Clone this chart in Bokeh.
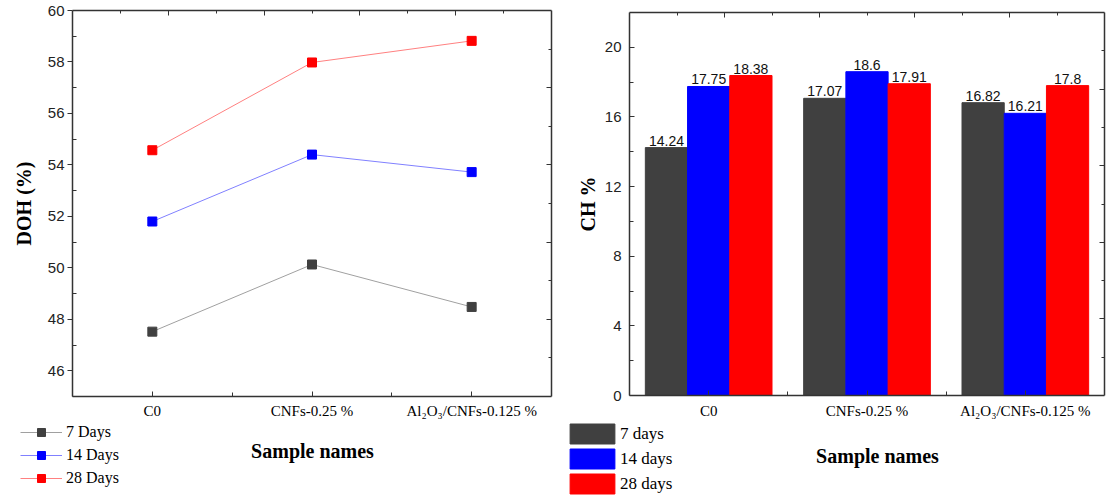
from bokeh.plotting import figure
from bokeh.models import Range1d, LinearAxis, FixedTicker, Legend, LegendItem, ColumnDataSource, Label
from bokeh.layouts import row, column
from bokeh.embed import file_html
from bokeh.resources import INLINE
from bokeh.core.properties import value

# ---------------- data ----------------
categories = ["C0", "CNFs-0.25 %", "Al\u2082O\u2083/CNFs-0.125 %"]

doh_labels = ["7 Days", "14 Days", "28 Days"]
doh_7 = [47.52, 50.13, 48.48]
doh_14 = [51.80, 54.40, 53.72]
doh_28 = [54.57, 57.98, 58.82]
doh_ticks = [46, 48, 50, 52, 54, 56, 58, 60]
doh_minor = [45, 47, 49, 51, 53, 55, 57, 59]

ch_labels = ["7 days", "14 days", "28 days"]
ch_7 = [14.24, 17.07, 16.82]
ch_14 = [17.75, 18.6, 16.21]
ch_28 = [18.38, 17.91, 17.8]
ch_ticks = [0, 4, 8, 12, 16, 20]
ch_minor = [2, 6, 10, 14, 18]

series_colors = ["#404040", "#0000ff", "#ff0000"]
line_colors = ["#a0a0a0", "#8080ff", "#ff8080"]

AX = "#333333"
SANS = "Liberation Sans"
SERIF = "Liberation Serif"
frame_ticks = [0.2, 0.4, 0.6, 0.8]
frame_minor = [0.1, 0.3, 0.5, 0.7, 0.9]


def frame_axes(p):
    p.extra_x_ranges = {"top": Range1d(0, 1)}
    p.extra_y_ranges = {"right": Range1d(0, 1)}
    top = LinearAxis(x_range_name="top", ticker=FixedTicker(ticks=frame_ticks, minor_ticks=frame_minor))
    right = LinearAxis(y_range_name="right", ticker=FixedTicker(ticks=frame_ticks, minor_ticks=frame_minor))
    for ax in (top, right):
        ax.major_label_overrides = {t: "" for t in frame_ticks}
        ax.major_label_text_font_size = "1px"
        ax.major_label_standoff = 0
        ax.axis_line_color = AX
        ax.axis_line_width = 1.5
        ax.major_tick_line_color = AX
        ax.minor_tick_line_color = AX
        ax.major_tick_in = 5
        ax.major_tick_out = 0
        ax.minor_tick_in = 3
        ax.minor_tick_out = 0
    p.add_layout(top, "above")
    p.add_layout(right, "right")


def style_common(p):
    p.xgrid.visible = False
    p.ygrid.visible = False
    p.outline_line_color = None
    p.frame_align = False
    for ax in (p.xaxis[0], p.yaxis[0]):
        ax.axis_line_color = AX
        ax.axis_line_width = 1.5
        ax.major_tick_line_color = AX
        ax.minor_tick_line_color = AX
        ax.axis_label_text_font = SERIF
        ax.axis_label_text_font_style = "bold"
        ax.axis_label_text_font_size = "20px"
        ax.axis_label_text_color = "black"
    xa = p.xaxis[0]
    xa.ticker = FixedTicker(ticks=[0, 1, 2], minor_ticks=[0.5, 1.5])
    xa.major_label_overrides = {i: c for i, c in enumerate(categories)}
    xa.major_label_text_font = SERIF
    xa.major_label_text_font_size = "15px"
    xa.major_label_text_color = "black"
    xa.major_tick_in = 5
    xa.major_tick_out = 0
    xa.minor_tick_in = 4
    xa.minor_tick_out = 0
    ya = p.yaxis[0]
    ya.major_label_text_font = SANS
    ya.major_label_text_font_size = "15px"
    ya.major_label_text_color = "#222222"


def bottom_panel(width):
    q = figure(width=width, height=75, x_range=Range1d(0, 1), y_range=Range1d(0, 1),
               output_backend="svg", toolbar_location=None,
               x_axis_location=None, y_axis_location=None, min_border=0)
    q.xgrid.visible = False
    q.ygrid.visible = False
    q.outline_line_color = None
    q.frame_align = False
    return q


xs = list(range(len(categories)))

# ---------------- left chart (DOH) ----------------
p1 = figure(width=560, height=421, x_range=Range1d(-0.5, 2.5), y_range=Range1d(45, 60),
            output_backend="svg", toolbar_location=None,
            min_border_left=72, min_border_right=9, min_border_top=10, min_border_bottom=24)
style_common(p1)
p1.xaxis[0].major_label_standoff = 6
ya1 = p1.yaxis[0]
ya1.ticker = FixedTicker(ticks=doh_ticks, minor_ticks=doh_minor)
ya1.major_tick_in = 0
ya1.major_tick_out = 5
ya1.minor_tick_in = 4
ya1.minor_tick_out = 0
ya1.major_label_standoff = 3
ya1.axis_label = "DOH (%)"
ya1.axis_label_standoff = 10
frame_axes(p1)

b1 = bottom_panel(560)
items1 = []
for lab, vals, mc, lc in zip(doh_labels, [doh_7, doh_14, doh_28], series_colors, line_colors):
    src = ColumnDataSource(dict(x=xs, y=vals))
    p1.line("x", "y", source=src, line_color=lc, line_width=1)
    p1.scatter("x", "y", source=src, marker="square", size=9, fill_color=mc, line_color=mc)
    # legend proxies (hidden) in the panel below the chart
    gl = b1.line("x", "y", source=src, line_color=lc, line_width=1, visible=False)
    gp = b1.scatter("x", "y", source=src, marker="square", size=9, fill_color=mc, line_color=mc, visible=False)
    items1.append(LegendItem(label=lab, renderers=[gl, gp]))

leg1 = Legend(items=items1, location=(20, 8), glyph_width=42, glyph_height=20, spacing=3,
              padding=0, margin=0, border_line_color=None, background_fill_alpha=0,
              label_standoff=4, label_text_font=SERIF, label_text_font_size="16px",
              label_text_color="black", label_height=20)
b1.add_layout(leg1)
b1.add_layout(Label(x=312, y=46, x_units="screen", y_units="screen", text="Sample names",
                    text_align="center", text_baseline="middle", text_font=SERIF,
                    text_font_style="bold", text_font_size="20px", text_color="black"))

# ---------------- right chart (CH) ----------------
p2 = figure(width=550, height=421, x_range=Range1d(-0.5, 2.5), y_range=Range1d(0, 22),
            output_backend="svg", toolbar_location=None,
            min_border_left=69, min_border_right=6, min_border_top=12, min_border_bottom=23)
style_common(p2)
p2.xaxis[0].major_label_standoff = 7
ya2 = p2.yaxis[0]
ya2.ticker = FixedTicker(ticks=ch_ticks, minor_ticks=ch_minor)
ya2.major_tick_in = 5
ya2.major_tick_out = 0
ya2.minor_tick_in = 4
ya2.minor_tick_out = 0
ya2.major_label_standoff = 8
ya2.axis_label = "CH %"
ya2.axis_label_standoff = 3
frame_axes(p2)

b2 = bottom_panel(550)
bar_w = 0.8 / 3
offsets = [-bar_w, 0.0, bar_w]
items2 = []
for lab, vals, col, off in zip(ch_labels, [ch_7, ch_14, ch_28], series_colors, offsets):
    src = ColumnDataSource(dict(x=[i + off for i in xs], top=vals, txt=[str(v) for v in vals]))
    p2.vbar(x="x", top="top", width=bar_w, source=src, fill_color=col, line_color=col)
    p2.text(x="x", y="top", text="txt", source=src, text_align="center", text_baseline="bottom",
            y_offset=-2, text_font=value(SANS), text_font_size="14px", text_color="#111111")
    gb = b2.vbar(x="x", top="top", width=bar_w, source=src, fill_color=col, line_color=col, visible=False)
    items2.append(LegendItem(label=lab, renderers=[gb]))

leg2 = Legend(items=items2, location=(4, 0), glyph_width=56, glyph_height=25, spacing=0,
              padding=0, margin=0, border_line_color=None, background_fill_alpha=0,
              label_standoff=0, label_text_font=SERIF, label_text_font_size="17px",
              label_text_color="black", label_height=25)
b2.add_layout(leg2)
b2.add_layout(Label(x=317, y=41, x_units="screen", y_units="screen", text="Sample names",
                    text_align="center", text_baseline="middle", text_font=SERIF,
                    text_font_style="bold", text_font_size="20px", text_color="black"))

layout = row(column(p1, b1, spacing=0), column(p2, b2, spacing=0), spacing=0)
open("out.html", "w").write(file_html(layout, INLINE))
